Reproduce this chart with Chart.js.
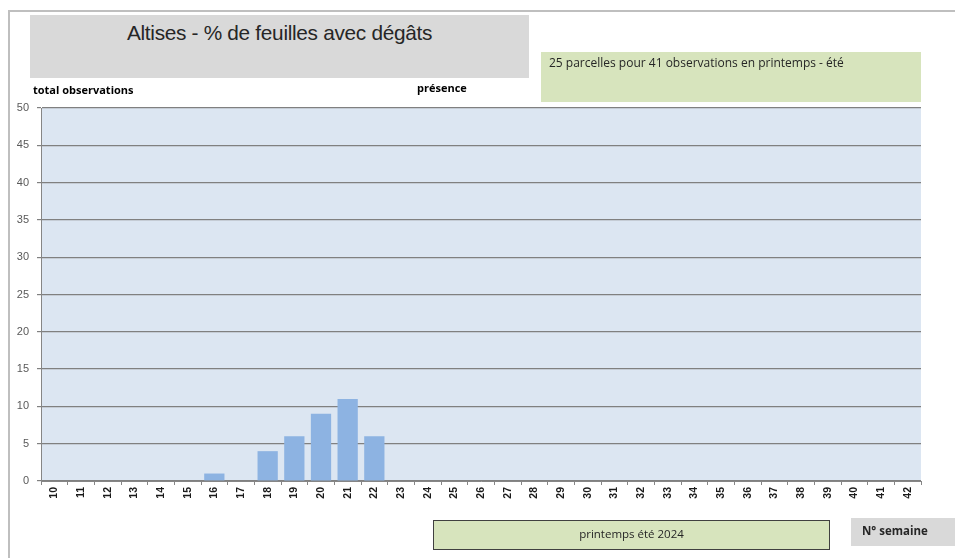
<!DOCTYPE html>
<html><head><meta charset="utf-8">
<script src="https://cdn.jsdelivr.net/npm/chart.js@4/dist/chart.umd.min.js"></script>
<style>
html,body{margin:0;padding:0;background:#fff;}
#wrap{position:relative;width:955px;height:558px;overflow:hidden;font-family:"Open Sans","Liberation Sans",sans-serif;}
canvas{position:absolute;left:0;top:0;}
.box{position:absolute;box-sizing:border-box;}
</style></head>
<body>
<div id="wrap">
<canvas id="c" width="955" height="558"></canvas>
<div class="box" style="left:8px;top:10px;width:960px;height:560px;border-left:2px solid #bfbfbf;border-top:2px solid #bfbfbf;"></div>
<div class="box" style="left:30px;top:15px;width:499px;height:63px;background:#d9d9d9;"></div>
<div class="box" style="left:30px;top:21px;width:499px;text-align:center;font-size:20.8px;color:#262626;font-family:'Liberation Sans','Open Sans',sans-serif;letter-spacing:-0.3px;">Altises - % de feuilles avec dégâts</div>
<div class="box" style="left:541px;top:52px;width:380px;height:50px;background:#d7e4bd;"></div>
<div class="box" style="left:549px;top:54px;font-size:12px;color:#262626;">25 parcelles pour 41 observations en printemps - été</div>
<div class="box" style="left:33px;top:82px;font-size:11px;font-weight:bold;color:#000;">total observations</div>
<div class="box" style="left:417px;top:80px;font-size:11px;font-weight:bold;color:#000;">présence</div>
<div class="box" style="left:433px;top:520px;width:397px;height:30px;background:#d7e4bd;border:1.5px solid #404040;"></div>
<div class="box" style="left:433px;top:526px;width:397px;text-align:center;font-size:11.5px;color:#262626;">printemps été 2024</div>
<div class="box" style="left:851px;top:518px;width:104px;height:28px;background:#d9d9d9;"></div>
<div class="box" style="left:862px;top:523px;font-size:11.5px;font-weight:bold;color:#262626;">N° semaine</div>
</div>
<script>
const weeks = ["10","11","12","13","14","15","16","17","18","19","20","21","22","23","24","25","26","27","28","29","30","31","32","33","34","35","36","37","38","39","40","41","42"];
const presence = [0,0,0,0,0,0,1,0,4,6,9,11,6,0,0,0,0,0,0,0,0,0,0,0,0,0,0,0,0,0,0,0,0];
const yTicks = [0,5,10,15,20,25,30,35,40,45,50];

const bgPlugin = {
  id:'bg',
  beforeDraw(chart){
    const {ctx, chartArea:a} = chart;
    ctx.save();
    ctx.fillStyle = '#dce6f2';
    ctx.fillRect(a.left, a.top, a.right-a.left, a.bottom-a.top);
    ctx.restore();
  }
};

new Chart(document.getElementById('c'), {
  type:'bar',
  data:{labels:weeks, datasets:[{data:presence, backgroundColor:'#8db3e2', borderWidth:0, barPercentage:0.76, categoryPercentage:1}]},
  options:{
    responsive:false, animation:false,
    layout:{padding:{left:0, right:34, top:108, bottom:0}},
    plugins:{legend:{display:false}, tooltip:{enabled:false}, title:{display:false}},
    scales:{
      x:{
        grid:{display:true, drawOnChartArea:false, drawTicks:true, tickLength:4, color:'#868686', offset:true},
        border:{color:'#868686', width:1},
        ticks:{minRotation:90, maxRotation:90, autoSkip:false, color:'#1a1a1a', font:{size:10.5, weight:'bold', family:'Liberation Sans'}, padding:2},
        afterFit(s){ s.height = 558-481; }
      },
      y:{
        min:0, max:50,
        afterBuildTicks(s){ s.ticks = yTicks.map(v=>({value:v})); },
        grid:{color:'#808080', lineWidth:1.2, drawTicks:true, tickLength:4},
        border:{color:'#868686', width:1},
        ticks:{color:'#595959', font:{size:11, family:'Liberation Sans'}, padding:8},
        afterFit(s){ s.width = 41; }
      }
    }
  },
  plugins:[bgPlugin]
});
</script>
</body></html>
